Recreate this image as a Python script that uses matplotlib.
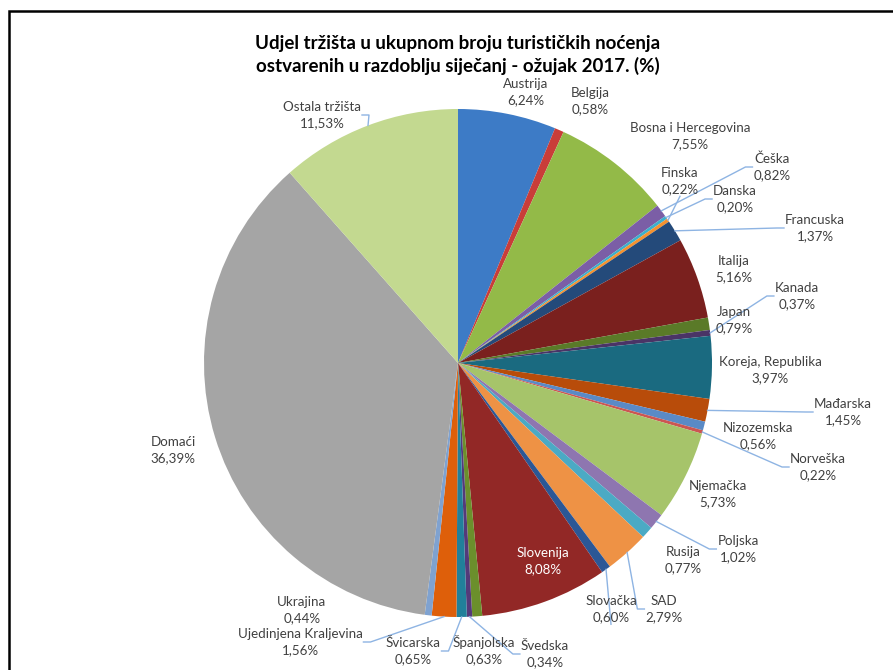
import matplotlib
matplotlib.use('Agg')
import matplotlib.pyplot as plt
import numpy as np
from matplotlib.patches import Rectangle

# market shares of tourist nights, Jan - Mar 2017 (%)
markets = ['Austrija', 'Belgija', 'Bosna i Hercegovina', 'Češka', 'Danska',
           'Finska', 'Francuska', 'Italija', 'Japan', 'Kanada',
           'Koreja, Republika', 'Mađarska', 'Nizozemska', 'Norveška',
           'Njemačka', 'Poljska', 'Rusija', 'SAD', 'Slovačka', 'Slovenija',
           'Španjolska', 'Švedska', 'Švicarska', 'Ujedinjena Kraljevina',
           'Ukrajina', 'Domaći', 'Ostala tržišta']
shares = [6.24, 0.58, 7.55, 0.82, 0.20,
          0.22, 1.37, 5.16, 0.79, 0.37,
          3.97, 1.45, 0.56, 0.22,
          5.73, 1.02, 0.77, 2.79, 0.60, 8.08,
          0.63, 0.34, 0.65, 1.56,
          0.44, 36.39, 11.53]

colors = ['#3D7BC6', '#C93D39', '#93BA48', '#7B5EA6', '#3DB0CC',
          '#F5922F', '#244A7A', '#7A201E', '#5A7A28', '#4A3466',
          '#1A6A80', '#B84C0A', '#5A8AC6', '#CC5652',
          '#A6C46A', '#8E76B0', '#4BAAC4', '#EE9245', '#2B5796', '#922826',
          '#6B8F2C', '#543A7A', '#21809A', '#DE5F0A',
          '#7FA2D0', '#A5A5A5', '#C3D990']

# label centres (pixels from top-left), as laid out in the original
label_xy = [(526, 92), (590, 101), (690, 136), (772, 167), (735, 199),
            (680, 181), (815, 228), (734, 269), (734, 320), (797, 296),
            (770, 370), (843, 412), (758, 436), (818, 467),
            (718, 494), (738, 549), (683, 560), (664, 609), (611, 609), (543, 561),
            (484, 650), (545, 654), (413, 651), (300, 642),
            (302, 610), (173, 450), (322, 115)]
leader = ['Češka', 'Danska', 'Finska', 'Francuska', 'Kanada', 'Mađarska',
          'Norveška', 'Poljska', 'SAD', 'Slovačka', 'Švedska', 'Švicarska',
          'Ujedinjena Kraljevina', 'Ostala tržišta']

W, H = 893, 670
cx, cy, R = 458, 363, 254

plt.rcParams['font.family'] = ['Lato', 'DejaVu Sans']

fig = plt.figure(figsize=(W / 100, H / 100), dpi=100)
ax = fig.add_axes([0, 0, 1, 1])

wedges, _ = ax.pie(shares, colors=colors, startangle=90, counterclock=False,
                   center=(cx, H - cy), radius=R,
                   wedgeprops=dict(linewidth=0))
ax.set_xlim(0, W)
ax.set_ylim(0, H)
ax.set_aspect('equal')
ax.axis('off')

texts = []
for name, v, (lx, ly) in zip(markets, shares, label_xy):
    col = 'white' if name == 'Slovenija' else '#404040'
    t = ax.text(lx, H - ly, name + '\n' + ('%.2f' % v).replace('.', ',') + '%',
                ha='center', va='center', fontsize=9.6, color=col,
                linespacing=1.45)
    texts.append(t)

fig.canvas.draw()
rend = fig.canvas.get_renderer()
inv = ax.transData.inverted()

for name, w, t in zip(markets, wedges, texts):
    if name not in leader:
        continue
    mid = np.radians((w.theta1 + w.theta2) / 2)
    px = cx + R * np.cos(mid)
    py = (H - cy) + R * np.sin(mid)
    bb = t.get_window_extent(rend)
    (x0, y0), (x1, y1) = inv.transform([[bb.x0, bb.y0], [bb.x1, bb.y1]])
    yc = (y0 + y1) / 2
    if px < x0:
        xs, ys = [px, x0 - 8, x0 - 1], [py, yc, yc]
    elif px > x1:
        xs, ys = [px, x1 + 8, x1 + 1], [py, yc, yc]
    else:
        xs, ys = [px, (x0 + x1) / 2], [py, y0 - 1]
    ax.plot(xs, ys, color='#8EB4E3', lw=1)

fig.text(458 / W, 1 - 55 / H,
         'Udjel tržišta u ukupnom broju turističkih noćenja\n'
         'ostvarenih u razdoblju siječanj - ožujak 2017. (%)',
         ha='center', va='center', fontsize=13.5, fontweight='bold',
         linespacing=1.35)

# chart area border (cut off at right and bottom in the original)
fig.patches.append(Rectangle((9 / W, -0.05), 1.2, 1 - 11 / H + 0.05,
                             transform=fig.transFigure, fill=False,
                             edgecolor='black', lw=1.8))

fig.savefig('out.png', dpi=100)
